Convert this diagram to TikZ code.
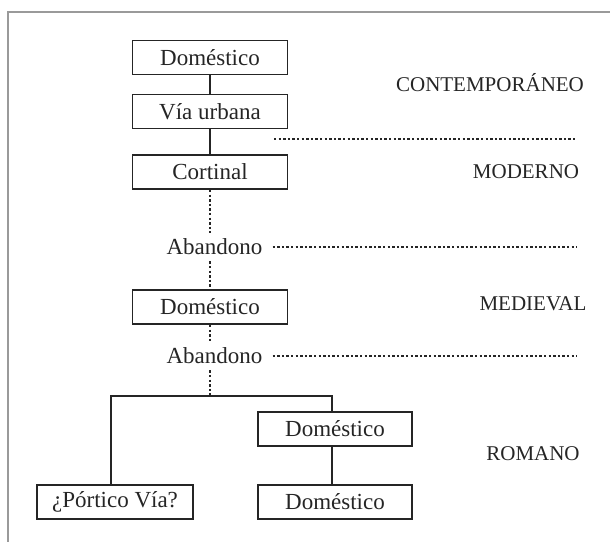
\documentclass[tikz,border=0pt]{standalone}
\usepackage{fontspec}
\setmainfont{Liberation Serif}
\definecolor{ink}{HTML}{252525}
\definecolor{framegray}{HTML}{9A9A9A}
\begin{document}
\begin{tikzpicture}[x=1pt,y=-1pt,
  box/.style={draw=ink, line width=1.8pt, minimum width=155pt, minimum height=34pt,
    inner sep=0pt, font=\fontsize{23}{27}\selectfont, text=ink},
  era/.style={font=\fontsize{21}{25}\selectfont, text=ink, inner sep=0pt},
  aband/.style={font=\fontsize{23}{27}\selectfont, text=ink, inner xsep=4pt, inner ysep=6pt},
  link/.style={line width=1.5pt, draw=ink},
  dotlink/.style={line width=1.8pt, draw=ink, dash pattern=on 2.4pt off 2.2pt},
  framestyle/.style={line width=1.3pt, draw=framegray}]
\useasboundingbox (0,0) rectangle (610,542);
% frame (only top and left edges visible)
\coordinate (fa) at (8,12);
\coordinate (fb) at (610,12);
\coordinate (fc) at (8,542);
\draw[framestyle] (fb) -- (fa) -- (fc);

% boxes
\node[box] (dom1) at (210,57.5) {Doméstico};
\node[box] (via) at (210,111.5) {Vía urbana};
\node[box] (cort) at (210,172) {Cortinal};
\node[aband] (ab1) at (214.5,247) {Abandono};
\node[box] (med) at (210,307) {Doméstico};
\node[aband] (ab2) at (214.5,356) {Abandono};
\node[box, minimum width=154pt] (rd1) at (335,429) {Doméstico};
\node[box, minimum width=154pt] (rd2) at (335,502) {Doméstico};
\node[box, minimum width=156pt] (por) at (115,502) {¿Pórtico Vía?};

% period labels
\node[era] (e1) at (490,83) {CONTEMPORÁNEO};
\node[era] (e2) at (526,172) {MODERNO};
\node[era] (e3) at (533,304) {MEDIEVAL};
\node[era] (e4) at (533,454) {ROMANO};

% period separators
\coordinate (s1a) at (274,139);
\coordinate (s1b) at (577,139);
\coordinate (s2) at (577,247);
\coordinate (s3) at (577,356);
\draw[dotlink] (s1a) -- (s1b);
\draw[dotlink, shorten <=6pt] (ab1) -- (s2);
\draw[dotlink, shorten <=6pt] (ab2) -- (s3);

% connectors
\draw[link] (dom1) -- (via);
\draw[link] (via) -- (cort);
\draw[dotlink] (cort) -- (cort |- ab1.north);
\draw[dotlink] (cort |- ab1.south) -- (med);
\draw[dotlink] (med) -- (med |- ab2.north);
\coordinate (br) at (210,396);
\draw[dotlink] (med |- ab2.south) -- (br);
\coordinate (bl) at (111,396);
\coordinate (brr) at (332,396);
\draw[link] (bl |- por.north) -- (bl) -- (brr) -- (brr |- rd1.north);
\draw[link] (brr |- rd1.south) -- (brr |- rd2.north);
\end{tikzpicture}
\end{document}
